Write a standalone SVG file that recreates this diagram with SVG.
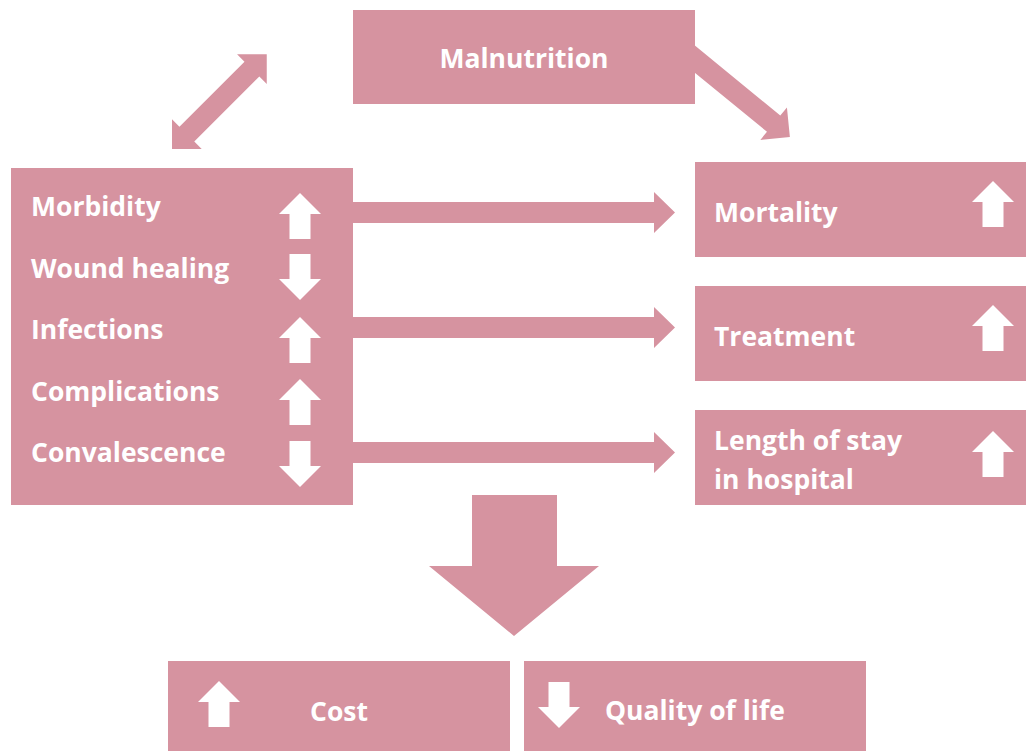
<svg xmlns="http://www.w3.org/2000/svg" width="1026" height="751" viewBox="0 0 1026 751">
  <style>
    .box { fill: #D693A0; }
    .conn { fill: #D693A0; }
    .lbl { font-family: "Open Sans", "Liberation Sans", sans-serif; font-weight: 700; font-size: 26.5px; fill: #FFFFFF; }
    .mid { text-anchor: middle; }
    .ico { fill: #FFFFFF; }
  </style>
  <defs>
    <!-- small white indicator arrows, origin at top centre, 42 wide x 46 high -->
    <path id="up" d="M0,0 L21,21 L10.5,21 L10.5,46 L-10.5,46 L-10.5,21 L-21,21 Z"/>
    <path id="down" d="M-10.5,0 L10.5,0 L10.5,25 L21,25 L0,46 L-21,25 L-10.5,25 Z"/>
  </defs>

  <rect width="1026" height="751" fill="#FFFFFF"/>

  <g id="connectors">
    <!-- two-way link between malnutrition and disease -->
    <path class="conn" transform="translate(172,149) rotate(-45)"
          d="M0,0 L21,-21 L21,-10.5 L113,-10.5 L113,-21 L134,0 L113,21 L113,10.5 L21,10.5 L21,21 Z"/>
    <!-- malnutrition to mortality -->
    <path class="conn" transform="translate(680,47) rotate(39.3)"
          d="M0,-10.5 L121,-10.5 L121,-21 L142,0 L121,21 L121,10.5 L0,10.5 Z"/>
    <!-- disease outcomes to the right-hand boxes -->
    <path class="conn" d="M353,202 L654,202 L654,192 L675,212.5 L654,233 L654,223 L353,223 Z"/>
    <path class="conn" d="M353,317 L654,317 L654,307 L675,327.5 L654,348 L654,338 L353,338 Z"/>
    <path class="conn" d="M353,442 L654,442 L654,432 L675,452.5 L654,473 L654,463 L353,463 Z"/>
    <!-- overall consequence -->
    <path class="conn" d="M472,495 L557,495 L557,566 L599,566 L514,636 L429,566 L472,566 Z"/>
  </g>

  <g id="malnutrition">
    <rect class="box" x="353" y="10" width="342" height="94"/>
    <text class="lbl mid" x="524" y="68">Malnutrition</text>
  </g>

  <g id="disease">
    <rect class="box" x="11" y="168" width="342" height="337"/>
    <text class="lbl" x="31" y="216">Morbidity</text>
    <text class="lbl" x="31" y="278">Wound healing</text>
    <text class="lbl" x="31" y="339">Infections</text>
    <text class="lbl" x="31" y="401">Complications</text>
    <text class="lbl" x="31" y="462">Convalescence</text>
    <use href="#up" class="ico" x="300" y="193"/>
    <use href="#down" class="ico" x="300" y="254"/>
    <use href="#up" class="ico" x="300" y="317"/>
    <use href="#up" class="ico" x="300" y="379"/>
    <use href="#down" class="ico" x="300" y="441"/>
  </g>

  <g id="mortality">
    <rect class="box" x="695" y="162" width="331" height="95"/>
    <text class="lbl" x="714" y="222">Mortality</text>
    <use href="#up" class="ico" x="993" y="181"/>
  </g>

  <g id="treatment">
    <rect class="box" x="695" y="286" width="331" height="95"/>
    <text class="lbl" x="714" y="346">Treatment</text>
    <use href="#up" class="ico" x="993" y="305"/>
  </g>

  <g id="length-of-stay">
    <rect class="box" x="695" y="410" width="331" height="95"/>
    <text class="lbl" x="714" y="450">Length of stay</text>
    <text class="lbl" x="714" y="489">in hospital</text>
    <use href="#up" class="ico" x="993" y="431"/>
  </g>

  <g id="cost">
    <rect class="box" x="168" y="661" width="342" height="90"/>
    <use href="#up" class="ico" x="219" y="681"/>
    <text class="lbl mid" x="339" y="721">Cost</text>
  </g>

  <g id="quality-of-life">
    <rect class="box" x="524" y="661" width="342" height="90"/>
    <use href="#down" class="ico" x="559" y="682"/>
    <text class="lbl" x="605" y="720">Quality of life</text>
  </g>
</svg>
